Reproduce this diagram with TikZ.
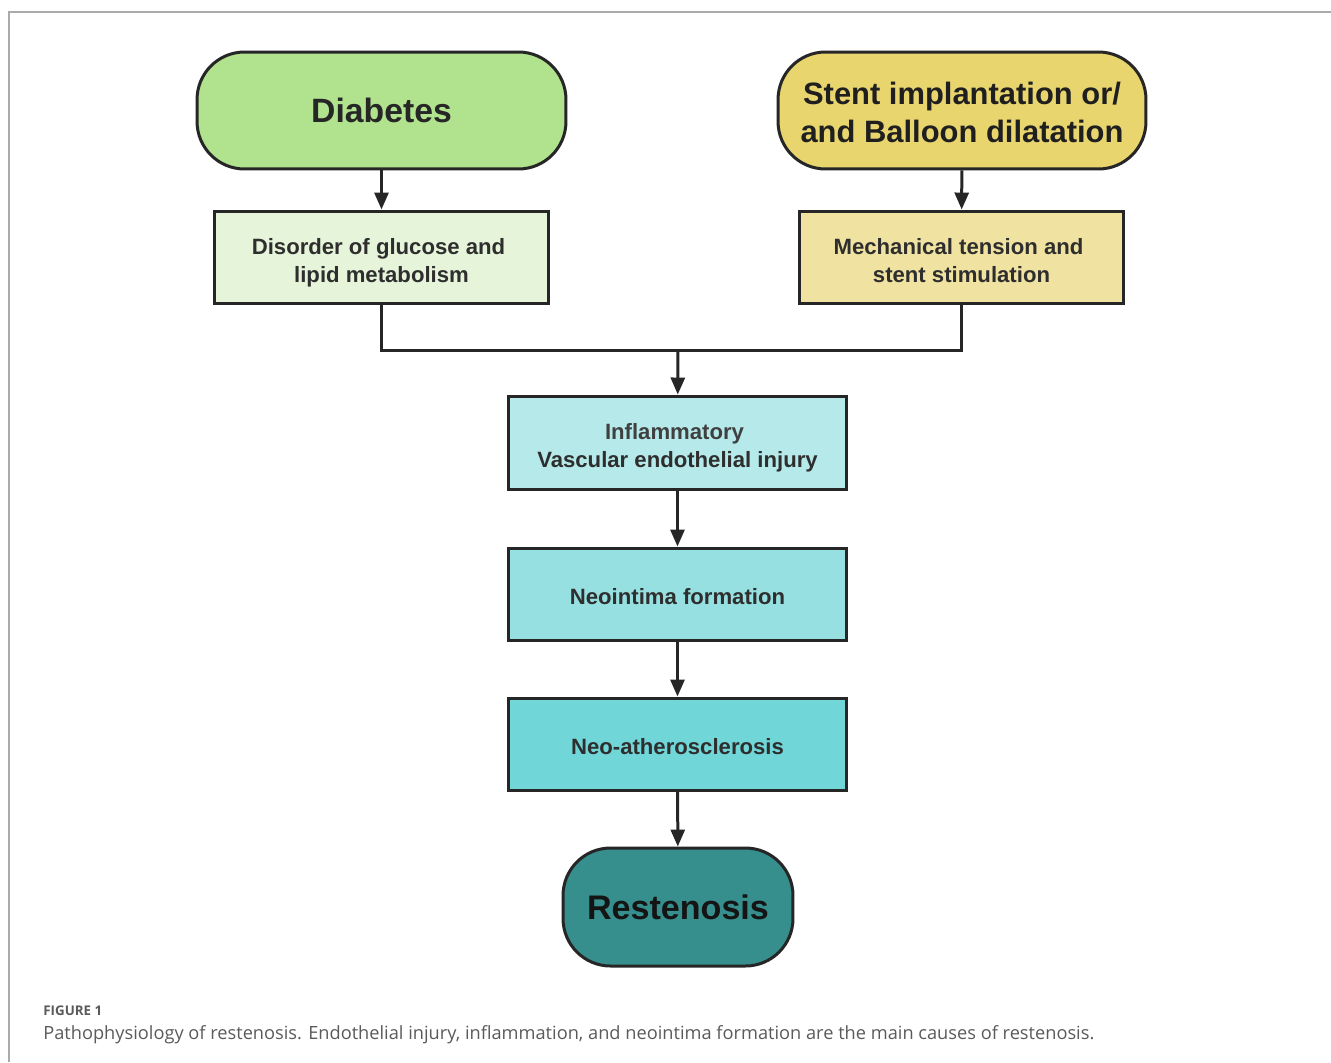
\documentclass[tikz,border=0pt]{standalone}
\usepackage{fontspec}
\setmainfont{Liberation Sans}
\newfontfamily\capfont{Open Sans}
\usetikzlibrary{arrows.meta}

\definecolor{lineclr}{HTML}{262626}
\definecolor{diabclr}{HTML}{B1E38F}
\definecolor{stentclr}{HTML}{E9D56E}
\definecolor{disclr}{HTML}{E6F5DA}
\definecolor{mechclr}{HTML}{F0E2A0}
\definecolor{inflclr}{HTML}{B6EAEA}
\definecolor{neoclr}{HTML}{96E0E2}
\definecolor{athclr}{HTML}{70D6D8}
\definecolor{restclr}{HTML}{368E8D}
\definecolor{frameclr}{HTML}{AAAAAA}
\definecolor{capclr}{HTML}{5A5A5A}

% strut on the first line of a two-line box
\newcommand{\upstrut}[1][12.5pt]{\rule{0pt}{#1}}

\begin{document}
\begin{tikzpicture}[x=0.02cm, y=-0.02cm,
    terminal/.style={draw=lineclr, line width=0.06cm, rounded corners=0.95cm,
      align=center, font=\bfseries, text=black!85},
    stepbox/.style={draw=lineclr, line width=0.06cm, align=center,
      font=\bfseries\fontsize{12.6}{15.9}\selectfont, text=black!82,
      execute at begin node={\rule{0pt}{12pt}}, text depth=0pt},
    arr/.style={draw=lineclr, line width=0.06cm, -{Triangle[length=0.34cm,width=0.28cm]}},
    link/.style={draw=lineclr, line width=0.06cm}]
    \useasboundingbox (0, 0) rectangle (1331, 1062);

    % Frame
    \draw[frameclr, line width=0.03cm] (1331, 12) -- (9, 12) -- (9, 1062);

    % Causes
    \node[terminal, fill=diabclr, minimum width=7.38cm, minimum height=2.34cm,
      font=\bfseries\fontsize{19.2}{23}\selectfont] (diab) at (381.5, 110.5) {Diabetes};
    \node[terminal, fill=stentclr, minimum width=7.36cm, minimum height=2.34cm,
      font=\bfseries\fontsize{17.6}{21.6}\selectfont, text=black!88] (stent) at (962, 110.5)
      {\upstrut[14.8pt]Stent implantation or/\\and Balloon dilatation};

    % Mechanisms
    \node[stepbox, fill=disclr, minimum width=6.7cm, minimum height=1.86cm] (dis) at (381.5, 257.5)
      {\upstrut Disorder of glucose and\hspace*{0.12cm}\\lipid metabolism};
    \node[stepbox, fill=mechclr, minimum width=6.5cm, minimum height=1.86cm] (mech) at (961.5, 257.5)
      {\upstrut Mechanical tension and\hspace*{0.12cm}\\stent stimulation};

    % Common pathway
    \node[stepbox, fill=inflclr, minimum width=6.78cm, minimum height=1.86cm] (infl) at (677.5, 442.5)
      {\upstrut\textcolor{black!75}{Inflammatory}\hspace*{0.12cm}\\Vascular endothelial injury};
    \node[stepbox, fill=neoclr, minimum width=6.78cm, minimum height=1.84cm] (neo) at (677.5, 594)
      {Neointima formation};
    \node[stepbox, fill=athclr, minimum width=6.78cm, minimum height=1.84cm] (ath) at (677.5, 744)
      {Neo-atherosclerosis};
    \node[terminal, fill=restclr, minimum width=4.6cm, minimum height=2.36cm,
      font=\bfseries\fontsize{19.4}{23}\selectfont, text=black!92] (rest) at (678, 907) {Restenosis};

    % Connectors
    \coordinate (join) at (678, 350);
    \draw[arr] (diab) -- (dis);
    \draw[arr] (stent) -- (mech);
    \draw[link] (dis.south) |- (join) -| (mech.south);
    \draw[arr] (join) -- (infl);
    \draw[arr] (infl) -- (neo);
    \draw[arr] (neo) -- (ath);
    \draw[arr] (ath) -- (rest);

    % Caption
    \node[anchor=base west, inner sep=0, text=capclr, font=\capfont\bfseries\fontsize{7.6}{9}\selectfont] (fig) at (43, 1015) {FIGURE 1};
    \node[anchor=base west, inner sep=0, text=capclr, font=\capfont\fontsize{10.37}{12}\selectfont] (cap) at (43, 1039)
      {Pathophysiology of restenosis. Endothelial injury, inflammation, and neointima formation are the main causes of restenosis.};
\end{tikzpicture}
\end{document}
